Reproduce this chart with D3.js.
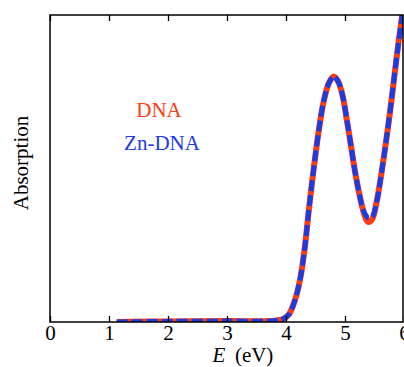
<!DOCTYPE html>
<html><head><meta charset="utf-8">
<script src="https://cdn.jsdelivr.net/npm/d3@7"></script>
<style>html,body{margin:0;padding:0;background:#fff;overflow:hidden}
svg text{font-family:"Liberation Serif","Times New Roman",serif;}</style>
</head><body>
<svg id="c" width="404" height="367"></svg>
<script>
const energy = [1.13,2.0,3.0,3.8,3.95,4.05,4.15,4.24,4.32,4.39,4.47,4.56,4.64,4.73,4.81,4.88,4.95,5.03,5.10,5.17,5.25,5.32,5.39,5.46,5.53,5.61,5.69,5.76,5.83,5.90,5.97,6.02];
const dnaAbs = [0.0,0.002,0.003,0.004,0.01,0.025,0.07,0.14,0.245,0.37,0.50,0.63,0.72,0.78,0.80,0.785,0.745,0.66,0.575,0.49,0.41,0.355,0.326,0.335,0.385,0.475,0.58,0.68,0.79,0.90,1.0,1.08];
const znDnaAbs = [0.0,0.002,0.003,0.004,0.01,0.025,0.07,0.14,0.245,0.37,0.50,0.63,0.72,0.78,0.80,0.785,0.745,0.66,0.575,0.49,0.41,0.36,0.34,0.342,0.385,0.475,0.58,0.68,0.79,0.90,1.0,1.08];
const xTicks = [0,1,2,3,4,5,6];
const legendLabels = ["DNA","Zn-DNA"];

const svg = d3.select("#c");
const L=50,R=403,T=15,B=322;
const x = d3.scaleLinear().domain([0,6]).range([L,404]);
const y = d3.scaleLinear().domain([0,1]).range([B,T]);
const red="#ff3b14", blue="#1c3ce0";

svg.append("defs").append("clipPath").attr("id","clip").append("rect")
  .attr("x",L).attr("y",T).attr("width",R-L).attr("height",B-T);

const line = d3.line().x((d,i)=>x(energy[i])).y(d=>y(d)).curve(d3.curveCatmullRom);
const g = svg.append("g").attr("clip-path","url(#clip)");
g.append("path").attr("d",line(dnaAbs)).attr("fill","none").attr("stroke",red).attr("stroke-width",6);
g.append("path").attr("d",line(znDnaAbs)).attr("fill","none").attr("stroke",blue).attr("stroke-width",5)
  .attr("stroke-dasharray","11,4");

// frame
svg.append("rect").attr("x",L).attr("y",T).attr("width",R-L).attr("height",B-T)
  .attr("fill","none").attr("stroke","#000").attr("stroke-width",1.5);

// bottom axis with inward ticks
const botAxis = svg.append("g").attr("transform",`translate(0,${B})`)
  .call(d3.axisBottom(x).tickValues(xTicks).tickSize(-6).tickPadding(3).tickFormat(d3.format("d")));
botAxis.attr("font-family",null).attr("font-size",null);
botAxis.select(".domain").remove();
botAxis.selectAll("line").attr("stroke","#000").attr("stroke-width",1.3);
botAxis.selectAll("text").style("font-size","21px").attr("fill","#000")
  .attr("dy",null).attr("y",18);
const topAxis = svg.append("g").attr("transform",`translate(0,${T})`)
  .call(d3.axisTop(x).tickValues(xTicks).tickSize(-6).tickFormat(""));
topAxis.select(".domain").remove();
topAxis.selectAll("line").attr("stroke","#000").attr("stroke-width",1.3);

// axis labels
const xl = svg.append("text").attr("x",243).attr("y",362).attr("text-anchor","middle")
  .style("font-size","21px").attr("fill","#000");
xl.append("tspan").attr("font-style","italic").text("E");
xl.append("tspan").text("\u2009 (eV)");
svg.append("text").attr("transform","translate(28,163) rotate(-90)").attr("text-anchor","middle")
  .style("font-size","21px").attr("fill","#000").text("Absorption");

// legend text
svg.append("text").attr("x",159).attr("y",117).attr("text-anchor","middle")
  .style("font-size","21px").attr("fill",red).text(legendLabels[0]);
svg.append("text").attr("x",162).attr("y",150).attr("text-anchor","middle")
  .style("font-size","21px").attr("fill",blue).text(legendLabels[1]);
</script>
</body></html>
